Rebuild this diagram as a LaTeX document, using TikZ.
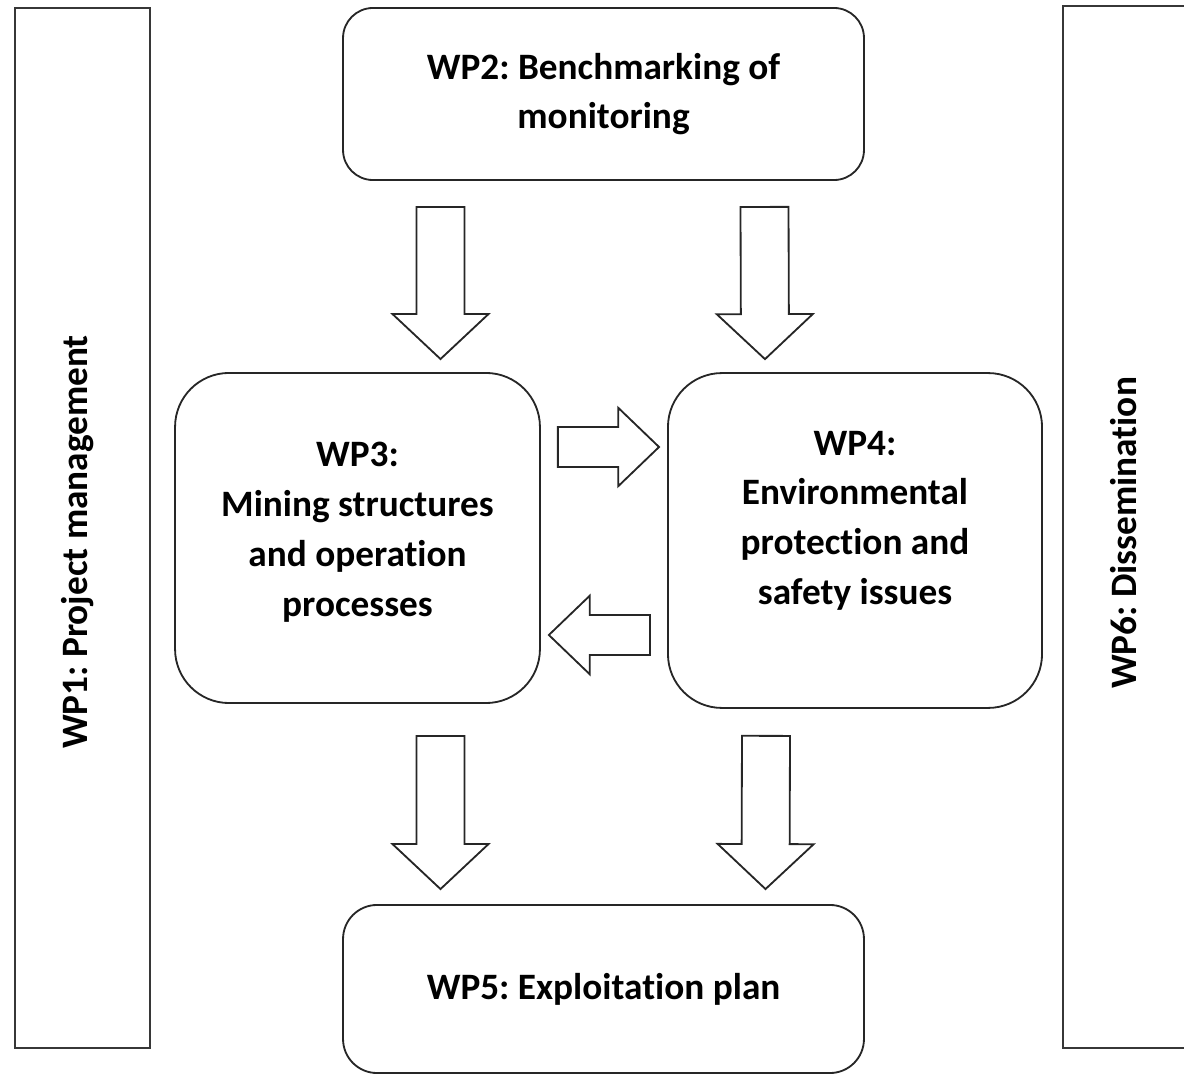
\documentclass[tikz,border=0pt]{standalone}
\usepackage{fontspec}
\setmainfont{Carlito}[Ligatures=NoCommon]
\usetikzlibrary{calc}
\frenchspacing

\begin{document}
\begin{tikzpicture}[x=0.025cm,y=-0.025cm]

% ------------------------------------------------ colours and styles
\definecolor{wp_line}{RGB}{55,55,55}
\tikzset{
  wpfont/.style={font=\bfseries\fontsize{26.5}{35.4}\selectfont, align=center},
  sidebox/.style={draw=wp_line, line width=1.5pt, inner sep=0pt},
  wpbox/.style={draw=black!85, line width=1.3pt, rounded corners=#1, inner sep=0pt, wpfont},
  % hollow block arrow: shaft half width, head half width, head length
  blockarrow/.style n args={3}{draw=black!85, line width=1.3pt, line join=miter,
    to path={
      ($(\tikztotarget)!#3!(\tikztostart)$) coordinate (neck)
      ($(\tikztostart)!#1!90:(\tikztotarget)$) -- ($(neck)!#1!90:(\tikztotarget)$)
      -- ($(neck)!#2!90:(\tikztotarget)$) -- (\tikztotarget)
      -- ($(neck)!#2!-90:(\tikztotarget)$) -- ($(neck)!#1!-90:(\tikztotarget)$)
      -- ($(\tikztostart)!#1!-90:(\tikztotarget)$) -- cycle}},
  downarrow/.style={blockarrow={0.6cm}{1.2cm}{1.125cm}},
  sidearrow/.style={blockarrow={0.5cm}{0.98cm}{1.02cm}}
}

\useasboundingbox (0,0) rectangle (1184,1075);

% side bars
\node[sidebox, minimum width=3.375cm, minimum height=26cm] (wp1) at (82.5,528) {};
\node[wpfont, rotate=90] (wp1text) at (78,542) {WP1: Project management};
\node[sidebox, minimum width=3.5cm, minimum height=26.05cm] (wp6) at (1133,527) {};
\node[wpfont, rotate=90] (wp6text) at (1124,533) {WP6: Dissemination};

% work packages
\node[wpbox=0.75cm, minimum width=13.02cm, minimum height=4.3cm] (wp2) at (603.5,94)
  {WP2: Benchmarking of\\monitoring};
\node[wpbox=1.35cm, minimum width=9.12cm, minimum height=8.25cm] (wp3) at (357.5,538)
  {WP3:\\Mining structures\\and operation\\processes\\[-0.8cm]};
\node[wpbox=1.35cm, minimum width=9.35cm, minimum height=8.37cm] (wp4) at (855,540.5)
  {WP4:\\Environmental\\protection and\\safety issues\\[-0.1cm]};
\node[wpbox=0.85cm, minimum width=13.02cm, minimum height=4.2cm] (wp5) at (603.5,989)
  {WP5: Exploitation plan};

% arrows
\draw[downarrow] ($(wp2.south)+(-163,26)$) to ($(wp3.north)+(83,-13)$);
\draw[downarrow] ($(wp2.south)+(161,26)$) to ($(wp4.north)+(-90,-13)$);
\draw[downarrow] ($(wp3.south)+(83,32)$) to ($(wp5.north)+(-163,-15)$);
\draw[downarrow] ($(wp4.south)+(-89,27)$) to ($(wp5.north)+(162,-15)$);
\draw[sidearrow] ($(wp3.east)+(17,-91)$) to ($(wp4.west)+(-8,-93.5)$);
\draw[sidearrow] ($(wp4.west)+(-17,94.5)$) to ($(wp3.east)+(8,97)$);

\end{tikzpicture}
\end{document}
